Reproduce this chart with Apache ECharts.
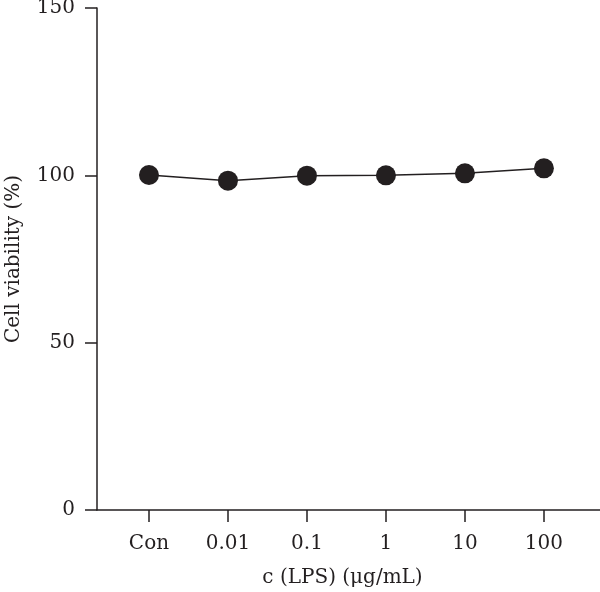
<!DOCTYPE html>
<html>
<head>
<meta charset="UTF-8">
<title>Cell viability</title>
<script src="https://cdn.jsdelivr.net/npm/echarts@6/dist/echarts.min.js"></script>
<style>
  html, body { margin: 0; padding: 0; background: #fff; }
  #main { width: 600px; height: 592px; }
</style>
</head>
<body>
<div id="main"></div>
<script>
// categories along the x axis
var categories = ['Con', '0.01', '0.1', '1', '10', '100'];
// cell viability (%)
var viability = [100.1, 98.4, 99.9, 100.0, 100.6, 102.1];
var yTicks = [0, 50, 100, 150];

var positions = categories.map(function (c, i) { return i + 1; });
var points = viability.map(function (v, i) { return [positions[i], v]; });

var ink = '#231f20';
var serif = 'DejaVu Serif';
var fs = 20;

var chart = echarts.init(document.getElementById('main'));
chart.setOption({
    animation: false,
    grid: { left: 97, right: 0, top: 8, bottom: 82, outerBoundsMode: 'none', containLabel: false },
    xAxis: {
        type: 'value',
        min: 0.342,
        max: 6.71,
        name: 'c (LPS) (\u03bcg/mL)',
        nameLocation: 'middle',
        nameGap: 58,
        nameTextStyle: { fontFamily: serif, fontSize: fs, color: ink, padding: [0, 12, 0, 0] },
        splitLine: { show: false },
        axisLine: { lineStyle: { color: ink, width: 1.5 } },
        axisTick: { customValues: positions, length: 12, lineStyle: { color: ink, width: 1.5 } },
        axisLabel: {
            customValues: positions,
            margin: 24,
            fontFamily: serif, fontSize: fs, color: ink,
            formatter: function (v) { return categories[Math.round(v) - 1]; }
        }
    },
    yAxis: {
        type: 'value',
        min: 0,
        max: 150,
        interval: 50,
        name: 'Cell viability (%)',
        nameLocation: 'middle',
        nameGap: 73,
        nameTextStyle: { fontFamily: serif, fontSize: fs, color: ink },
        splitLine: { show: false },
        axisLine: { show: true, lineStyle: { color: ink, width: 1.5 } },
        axisTick: { show: true, length: 12, lineStyle: { color: ink, width: 1.5 } },
        axisLabel: { margin: 22, fontFamily: serif, fontSize: fs, color: ink,
            formatter: function (v) { return yTicks.indexOf(v) >= 0 ? String(v) : ''; } }
    },
    series: [{
        type: 'line',
        data: points,
        symbol: 'circle',
        symbolSize: 20,
        itemStyle: { color: ink },
        lineStyle: { color: ink, width: 1.5 }
    }]
});
</script>
</body>
</html>
